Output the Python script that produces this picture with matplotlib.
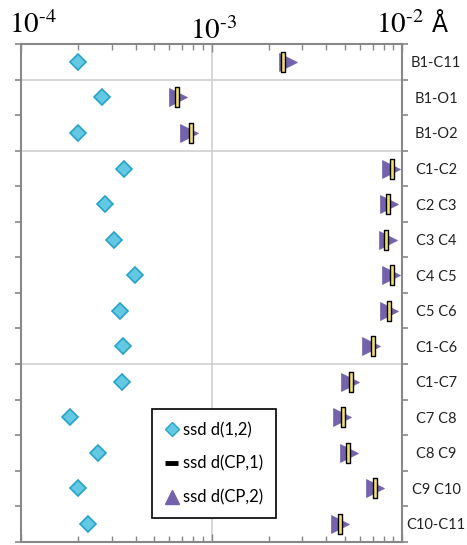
import matplotlib
matplotlib.use("Agg")
import matplotlib.pyplot as plt
import matplotlib.transforms as mtransforms
from matplotlib.path import Path
from matplotlib.lines import Line2D
import numpy as np

bonds = ["B1-C11", "B1-O1", "B1-O2", "C1-C2", "C2 C3", "C3 C4", "C4 C5",
         "C5 C6", "C1-C6", "C1-C7", "C7 C8", "C8 C9", "C9 C10", "C10-C11"]
group_sizes = [1, 2, 6, 5]
ssd_d12 = [2.0e-4, 2.65e-4, 1.99e-4, 3.47e-4, 2.77e-4, 3.09e-4, 3.95e-4,
           3.32e-4, 3.43e-4, 3.39e-4, 1.81e-4, 2.53e-4, 1.99e-4, 2.26e-4]
ssd_dcp1 = [2.37e-3, 6.6e-4, 7.78e-4, 8.87e-3, 8.41e-3, 8.21e-3, 8.87e-3,
            8.51e-3, 7.02e-3, 5.40e-3, 4.88e-3, 5.21e-3, 7.22e-3, 4.73e-3]
ssd_dcp2 = [2.51e-3, 6.65e-4, 7.57e-4, 8.79e-3, 8.51e-3, 8.39e-3, 8.79e-3,
            8.55e-3, 6.89e-3, 5.32e-3, 4.84e-3, 5.25e-3, 7.25e-3, 4.70e-3]
xtick_values = [1e-4, 1e-3, 1e-2]
xtick_labels = [r"$10^{\text{-}4}$", r"$10^{\text{-}3}$", r"$10^{\text{-}2}$"]
unit_label = "Å"
legend_labels = ["ssd d(1,2)", "ssd d(CP,1)", "ssd d(CP,2)"]

plt.rcParams["mathtext.fontset"] = "stix"
fig = plt.figure(figsize=(4.67, 5.45), dpi=100)
ax = fig.add_axes([0.045, 0.006, 0.816, 0.913])

y = np.arange(len(bonds))
c_dia_face = "#63c8e2"
c_dia_edge = "#27a3c9"
c_tri = "#7462ad"
c_bar = "#f2e06a"

bar_marker = Path([(-0.085, -0.5), (0.085, -0.5), (0.085, 0.5), (-0.085, 0.5), (-0.085, -0.5)],
                  [Path.MOVETO, Path.LINETO, Path.LINETO, Path.LINETO, Path.CLOSEPOLY])

ax.plot(ssd_d12, y, linestyle="none", marker="D", ms=8.5, mfc=c_dia_face,
        mec=c_dia_edge, mew=1.2, zorder=3)
ax.plot(ssd_dcp2, y, linestyle="none", marker=">", ms=12.5, mfc=c_tri,
        mec=c_tri, mew=0.5, zorder=3)
ax.plot(ssd_dcp1, y, linestyle="none", marker=bar_marker, ms=14.5, mfc=c_bar,
        mec="black", mew=1.0, zorder=4)

ax.set_xscale("log")
ax.set_xlim(1e-4, 1e-2)
ax.set_ylim(len(bonds) - 0.5, -0.5)

# group separators
bounds = np.cumsum(group_sizes)[:-1] - 0.5
for b in bounds:
    ax.axhline(b, color="#d0d0d0", lw=1.2, zorder=1)
ax.grid(axis="x", which="major", color="#d0d0d0", lw=1.2, zorder=1)

# y ticks: boundaries as major ticks, labels at row centers
ax.set_yticks(np.arange(len(bonds) + 1) - 0.5)
ax.set_yticklabels([])
ax.set_yticks(y, minor=True)
ax.set_yticklabels(bonds, minor=True, fontfamily="Lato", fontsize=10.5,
                   color="#222222", ha="center")
ax.tick_params(axis="y", which="major", left=True, right=True, direction="out",
               length=4, width=1.2, color="#888888", labelleft=False, labelright=False)
ax.tick_params(axis="y", which="minor", left=False, right=False, length=0,
               labelleft=False, labelright=True, pad=24.5)

# x ticks on top
ax.set_xticks(xtick_values)
ax.set_xticklabels(xtick_labels, fontsize=21)
ax.xaxis.set_minor_formatter(matplotlib.ticker.NullFormatter())
ax.tick_params(axis="x", which="both", top=True, bottom=True, labeltop=True,
               labelbottom=False, direction="in", color="#888888", width=1.0)
ax.tick_params(axis="x", which="major", length=6, pad=4)
ax.tick_params(axis="x", which="minor", length=4)
offsets = [(12, 0), (2, -6), (-2, 0)]
for lab, (dx, dy) in zip(ax.get_xticklabels(), offsets):
    lab.set_transform(lab.get_transform() +
                      mtransforms.ScaledTranslation(dx / 100, dy / 100, fig.dpi_scale_trans))
ax.text(1.10, 1.015, unit_label, transform=ax.transAxes, fontsize=17,
        fontfamily="DejaVu Sans", ha="center", va="bottom")

for s in ax.spines.values():
    s.set_color("#888888")
    s.set_linewidth(1.5)

handles = [
    Line2D([], [], linestyle="none", marker="D", ms=7, mfc=c_dia_face, mec=c_dia_edge, mew=1.0),
    Line2D([], [], color="black", lw=3.5, solid_capstyle="butt"),
    Line2D([], [], linestyle="none", marker="^", ms=10, mfc=c_tri, mec=c_tri),
]
leg = ax.legend(handles, legend_labels, loc="lower left", bbox_to_anchor=(0.345, 0.048),
                borderaxespad=0, fancybox=False, framealpha=1, edgecolor="black",
                handlelength=0.8, handletextpad=0.3, labelspacing=1.05, borderpad=0.75,
                prop={"family": "Lato", "size": 12})
leg.get_frame().set_linewidth(1.2)

fig.savefig("out.png", dpi=100)
